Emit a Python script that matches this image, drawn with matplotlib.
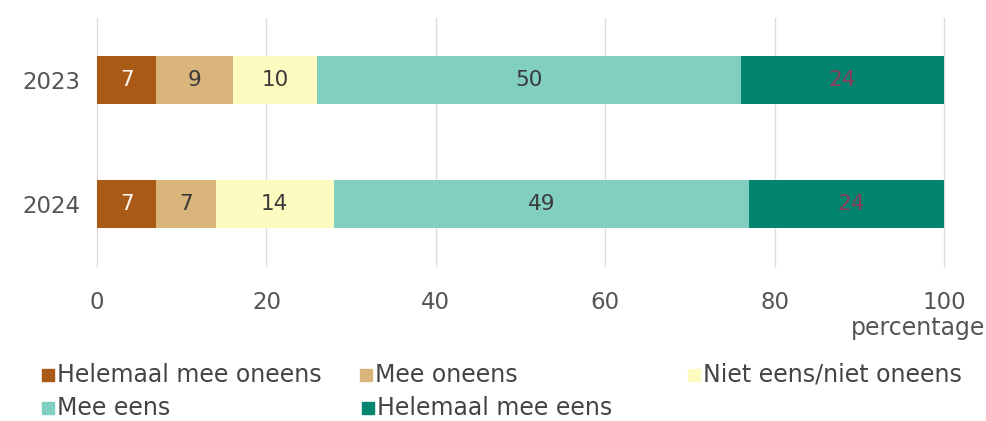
import matplotlib
matplotlib.use("Agg")
import matplotlib.pyplot as plt
from matplotlib.patches import Rectangle

years = ["2023", "2024"]
categories = ["Helemaal mee oneens", "Mee oneens", "Niet eens/niet oneens",
              "Mee eens", "Helemaal mee eens"]
values = {
    "2023": [7, 9, 10, 50, 24],
    "2024": [7, 7, 14, 49, 24],
}
colors = ["#a85a16", "#d9b57c", "#fdfbc0", "#80cfc0", "#03846f"]
label_colors = ["#fff4f0", "#3a3a3a", "#3a3a3a", "#3a3a3a", "#8a3a5a"]
xticks = [0, 20, 40, 60, 80, 100]

plt.rcParams["font.family"] = "DejaVu Sans"
fig = plt.figure(figsize=(9.86, 4.21), dpi=100)
ax = fig.add_axes([97 / 986, 1 - 266 / 421, 847 / 986, 248 / 421])

for i, yr in enumerate(years):
    left = 0
    for j, v in enumerate(values[yr]):
        ax.barh(i, v, left=left, height=0.39, color=colors[j], zorder=2)
        ax.text(left + v / 2, i, str(v), ha="center", va="center",
                fontsize=15.5, color=label_colors[j], zorder=3)
        left += v

ax.set_xlim(0, 100)
ax.set_ylim(1.5, -0.5)
ax.set_yticks(range(len(years)))
ax.set_yticklabels(years)
ax.set_xticks(xticks)
ax.tick_params(length=0, labelsize=16.5, labelcolor="#555555")
ax.tick_params(axis="x", pad=18)
ax.tick_params(axis="y", pad=12)
for t in xticks:
    ax.axvline(t, color="#dddddd", linewidth=1, zorder=0, clip_on=False)
for s in ax.spines.values():
    s.set_visible(False)

fig.text(985 / 986, 1 - 328 / 421, "percentage", ha="right", va="center",
         fontsize=17, color="#555555")

# legend drawn by hand so the columns sit where they do in the original
legend_pos = [(42, 375), (360, 375), (688, 375), (42, 408), (362, 408)]
for (px, py), cat, col in zip(legend_pos, categories, colors):
    fig.patches.append(Rectangle((px / 986, 1 - (py + 6) / 421), 12 / 986, 12 / 421,
                                 transform=fig.transFigure, color=col))
    fig.text((px + 15) / 986, 1 - py / 421, cat, ha="left", va="center",
             fontsize=17, color="#444444")

fig.savefig("out.png", dpi=100)
